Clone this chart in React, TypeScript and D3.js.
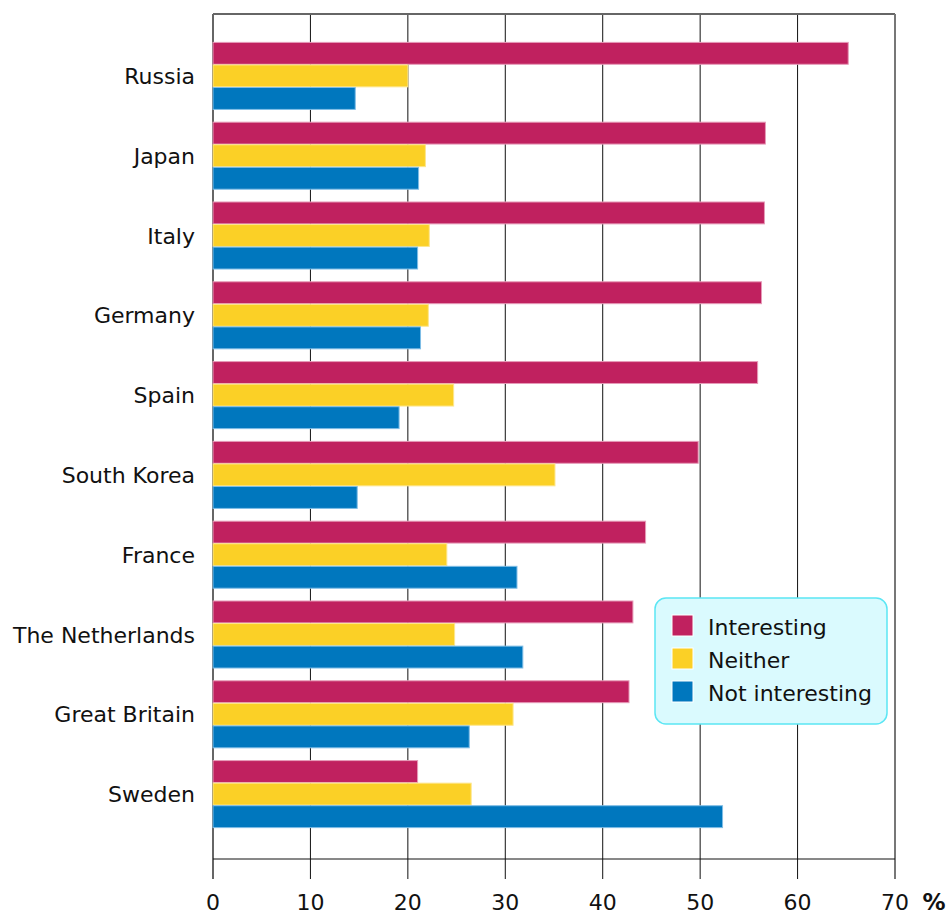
import React from "react";
import * as d3 from "d3";

const categories = ["Russia", "Japan", "Italy", "Germany", "Spain", "South Korea", "France", "The Netherlands", "Great Britain", "Sweden"];
const seriesNames = ["Interesting", "Neither", "Not interesting"];
const interesting = [65.2, 56.7, 56.6, 56.3, 55.9, 49.8, 44.4, 43.1, 42.7, 21.0];
const neither = [20.0, 21.8, 22.2, 22.1, 24.7, 35.1, 24.0, 24.8, 30.8, 26.5];
const notInteresting = [14.6, 21.1, 21.0, 21.3, 19.1, 14.8, 31.2, 31.8, 26.3, 52.3];
const xTicks = [0, 10, 20, 30, 40, 50, 60, 70];

const colors = ["#C0215F", "#FBD026", "#0077BE"];
const strokes = ["#E69BB8", "#FDE68C", "#7FBDE6"];

export default function App() {
  const W = 948, H = 916;
  const x = d3.scaleLinear().domain([0, 70]).range([213, 895]);
  const y = d3.scaleBand<string>().domain(categories).range([36, 834]).paddingInner(0.16).paddingOuter(0.08);
  const sub = d3.scaleBand<number>().domain([0, 1, 2]).range([0, y.bandwidth()]).paddingInner(0.03);
  const series = [interesting, neither, notInteresting];
  const font = "'DejaVu Sans', Verdana, sans-serif";
  const top = 14, bottom = 859;
  return (
    <svg width={W} height={H} style={{ position: "absolute", left: 0, top: 0, fontFamily: font }}>
      <rect x={0} y={0} width={W} height={H} fill="#fff" />
      {xTicks.slice(1, -1).map((t) => (
        <line key={t} x1={x(t)} x2={x(t)} y1={top} y2={879} stroke="#111" strokeWidth={1} />
      ))}
      <line x1={x(0)} x2={x(70)} y1={top} y2={top} stroke="#666" strokeWidth={2} />
      <line x1={x(0)} x2={x(0)} y1={top} y2={879} stroke="#666" strokeWidth={2} />
      <line x1={x(70)} x2={x(70)} y1={top} y2={879} stroke="#777" strokeWidth={2} />
      <line x1={x(0)} x2={x(70)} y1={bottom} y2={bottom} stroke="#111" strokeWidth={1} />
      {categories.map((c, i) => (
        <g key={c}>
          {series.map((s, j) => (
            <rect key={j} x={x(0)} y={(y(c) as number) + (sub(j) as number)} width={x(s[i]) - x(0)} height={sub.bandwidth()}
              fill={colors[j]} stroke={strokes[j]} strokeWidth={1} />
          ))}
          <text x={195} y={(y(c) as number) + y.bandwidth() / 2 + 8} textAnchor="end" fontSize={22} fill="#111">{c}</text>
        </g>
      ))}
      {xTicks.map((t) => (
        <text key={t} x={x(t)} y={910} textAnchor="middle" fontSize={22} fill="#111">{t}</text>
      ))}
      <text x={934} y={910} textAnchor="middle" fontSize={23} fontWeight="bold" fill="#111">%</text>
      <g>
        <rect x={655} y={598} width={232} height={126} rx={11} fill="#DAFAFE" stroke="#5BE6F4" strokeWidth={1.5} />
        {seriesNames.map((n, j) => (
          <g key={n}>
            <rect x={672} y={615 + j * 33} width={21} height={21} fill={colors[j]} stroke="#fff" strokeWidth={1} />
            <text x={708} y={635 + j * 33} fontSize={22} fill="#111">{n}</text>
          </g>
        ))}
      </g>
    </svg>
  );
}
